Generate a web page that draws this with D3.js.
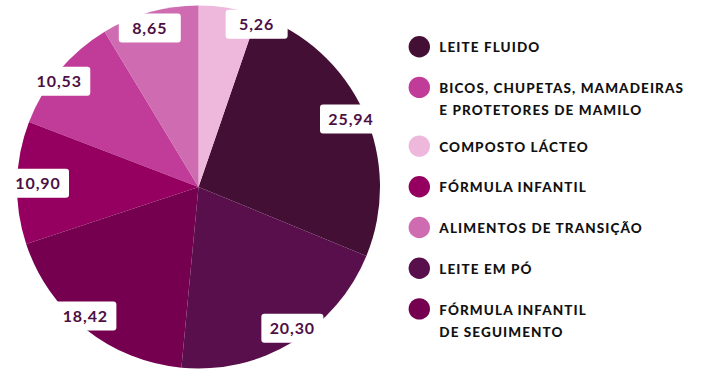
<!DOCTYPE html>
<html>
<head>
<meta charset="utf-8">
<script src="https://cdn.jsdelivr.net/npm/d3@7"></script>
<style>
  html, body { margin: 0; padding: 0; background: #fff; }
  svg { display: block; }
  text { font-family: Lato, "Open Sans", sans-serif; font-weight: 700; }
</style>
</head>
<body>
<svg id="chart" width="711" height="374"></svg>
<script>
// legend order, line breaks marked with "\n"
var categories = [
  'LEITE FLUIDO',
  'BICOS, CHUPETAS, MAMADEIRAS\nE PROTETORES DE MAMILO',
  'COMPOSTO LÁCTEO',
  'FÓRMULA INFANTIL',
  'ALIMENTOS DE TRANSIÇÃO',
  'LEITE EM PÓ',
  'FÓRMULA INFANTIL\nDE SEGUIMENTO'
];
var values = [25.94, 10.53, 5.26, 10.90, 8.65, 20.30, 18.42];
var colors = ['#430f34', '#c13b98', '#edb8dc', '#950060', '#cf6bb1', '#5a0f4d', '#760050'];

// clockwise order of the slices, starting at 12 o'clock
var pieOrder = [
  'COMPOSTO LÁCTEO',
  'LEITE FLUIDO',
  'LEITE EM PÓ',
  'FÓRMULA INFANTIL\nDE SEGUIMENTO',
  'FÓRMULA INFANTIL',
  'BICOS, CHUPETAS, MAMADEIRAS\nE PROTETORES DE MAMILO',
  'ALIMENTOS DE TRANSIÇÃO'
];

var data = categories.map(function (c, i) { return {cat: c, value: values[i]}; });

var svg = d3.select('#chart');
var cx = 198.5, cy = 187, radius = 181.5;

var color = d3.scaleOrdinal().domain(categories).range(colors);
var fmt = d3.formatLocale({decimal: ',', thousands: '.', grouping: [3], currency: ['R$', '']}).format('.2f');

var pie = d3.pie()
  .value(function (d) { return d.value; })
  .sort(function (a, b) { return pieOrder.indexOf(a.cat) - pieOrder.indexOf(b.cat); });

var arc = d3.arc().innerRadius(0).outerRadius(radius);
var labelArc = d3.arc().innerRadius(165).outerRadius(165);

var arcs = pie(data);

var g = svg.append('g').attr('transform', 'translate(' + cx + ',' + cy + ')');

g.selectAll('path.slice')
  .data(arcs)
  .enter().append('path')
  .attr('class', 'slice')
  .attr('d', arc)
  .attr('fill', function (d) { return color(d.data.cat); });

// value labels in white boxes
var boxW = 62, boxH = 29, margin = 7;
var labels = g.selectAll('g.label')
  .data(arcs)
  .enter().append('g')
  .attr('class', 'label')
  .attr('transform', function (d) {
    var p = labelArc.centroid(d);
    // narrow slices: box sits beside the point instead of on it
    if (d.endAngle - d.startAngle < 0.4) p[0] += boxW / 2;
    // push the boxes a little sideways, away from the vertical axis
    else p[0] *= 1.1;
    // keep the box inside the page
    p[0] = Math.max(p[0], -cx + margin + boxW / 2);
    p[0] = Math.min(p[0], radius - boxW / 2 + 2);
    return 'translate(' + p[0] + ',' + p[1] + ')';
  });

labels.append('rect')
  .attr('x', -boxW / 2)
  .attr('y', -boxH / 2)
  .attr('width', boxW)
  .attr('height', boxH)
  .attr('rx', 3)
  .attr('fill', '#fff');

labels.append('text')
  .attr('text-anchor', 'middle')
  .attr('dy', '0.36em')
  .attr('fill', '#4e0f43')
  .style('font-size', '16px')
  .style('letter-spacing', '0.9px')
  .text(function (d) { return fmt(d.data.value); });

// legend
var legend = svg.append('g').attr('class', 'legend');
var y = 46.7;
data.forEach(function (d) {
  var lines = d.cat.split('\n');
  var item = legend.append('g').attr('transform', 'translate(419.3,' + y + ')');
  item.append('circle').attr('r', 10.7).attr('fill', color(d.cat));
  item.selectAll('text')
    .data(lines)
    .enter().append('text')
    .attr('x', 20)
    .attr('y', function (l, i) { return 5.6 + i * 22.4; })
    .attr('fill', '#111')
    .style('font-size', '13.5px')
    .style('font-weight', 900)
    .style('letter-spacing', '1.1px')
    .text(function (l) { return l; });
  y += 40.7 + (lines.length - 1) * 18;
});
</script>
</body>
</html>
